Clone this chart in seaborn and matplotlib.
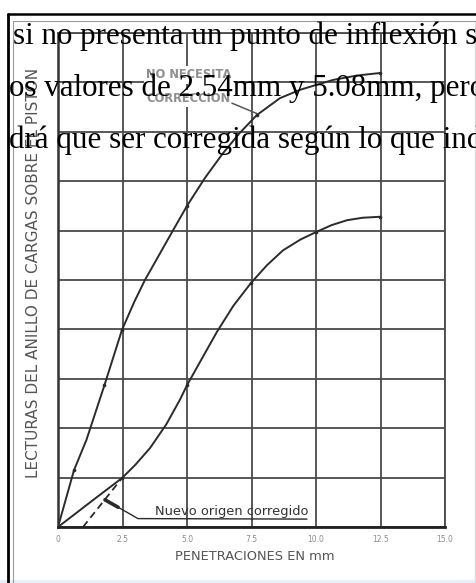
'''
Curva de penetracion (CBR) con correccion de origen, sobre un recorte de texto
'''
import numpy as np
import matplotlib
matplotlib.use('Agg')
import matplotlib.pyplot as plt
import seaborn as sns

# curva que no necesita correccion (penetracion en mm, lectura en divisiones)
pen_a = [0, 0.62, 1.1, 1.8, 2.48, 2.95, 3.37, 4.42, 5.0, 5.7, 6.4, 7.05,
         7.71, 8.6, 9.38, 10.66, 11.6, 12.48]
lec_a = [0, 1.15, 1.76, 2.87, 3.99, 4.55, 5.0, 5.97, 6.5, 7.07, 7.57, 7.98,
         8.34, 8.68, 8.85, 9.05, 9.14, 9.19]
pts_a_x = [0.62, 1.8, 2.48, 5.0, 7.71, 12.48]
pts_a_y = [1.15, 2.87, 3.99, 6.5, 8.34, 9.19]

# curva con punto de inflexion
pen_b = [0, 0.7, 1.37, 2.48, 3.0, 3.57, 4.2, 4.73, 5.0, 5.6, 6.16, 6.8,
         7.48, 8.1, 8.72, 9.4, 10.0, 10.6, 11.2, 11.8, 12.48]
lec_b = [0, 0.28, 0.55, 0.99, 1.26, 1.6, 2.08, 2.58, 2.87, 3.43, 3.95, 4.48,
         4.94, 5.3, 5.6, 5.82, 5.97, 6.11, 6.21, 6.26, 6.28]
pts_b_x = [2.48, 5.0, 7.48, 10.0, 12.48]
pts_b_y = [0.99, 2.87, 4.94, 5.97, 6.28]

# tangente que define el nuevo origen
tan_x = [0.97, 2.48]
tan_y = [0.0, 0.99]

xticks = [0, 2.5, 5.0, 7.5, 10.0, 12.5, 15.0]
xtick_labels = ['0', '2.5', '5.0', '7.5', '10.0', '12.5', '15.0']

doc_lines = ['si no presenta un punto de inflexión s',
             'os valores de 2.54mm y 5.08mm, pero',
             'drá que ser corregida según lo que ind']

W, H = 477, 583
sns.set_style('white')
fig = plt.figure(figsize=(W / 100, H / 100), dpi=100)
ax = fig.add_axes([58 / W, 56 / H, 387 / W, 494 / H])

ink = '#2b2b2b'
grid = '#4a4a4a'

sns.lineplot(x=pen_a, y=lec_a, ax=ax, color=ink, lw=1.4, sort=False,
             estimator=None)
sns.lineplot(x=pen_b, y=lec_b, ax=ax, color=ink, lw=1.4, sort=False,
             estimator=None)
sns.lineplot(x=tan_x, y=tan_y, ax=ax, color=ink, lw=1.3, ls=(0, (4, 2.5)),
             estimator=None)
sns.scatterplot(x=pts_a_x + pts_b_x, y=pts_a_y + pts_b_y, ax=ax, color=ink,
                s=7, linewidth=0, zorder=5)

ax.set_xlim(0, 15)
ax.set_ylim(0, 10)
ax.set_xticks(xticks)
ax.set_xticklabels(xtick_labels, fontsize=5.5, color='#8c8c8c')
ax.set_yticks(np.arange(0, 11, 1))
ax.set_yticklabels([])
ax.tick_params(length=0, pad=6)
ax.grid(True, color=grid, lw=1.3, zorder=0)
ax.set_axisbelow(True)
for side, sp in ax.spines.items():
    sp.set_color(grid)
    sp.set_linewidth(1.3)
ax.spines['bottom'].set_color('#222222')
ax.spines['bottom'].set_linewidth(2.0)
ax.spines['left'].set_color('#333333')
ax.spines['left'].set_linewidth(1.8)

ax.set_xlabel('PENETRACIONES EN mm', fontsize=9.4, color='#555555')
ax.xaxis.set_label_coords(0.509, -0.047)
ax.set_ylabel('LECTURAS DEL ANILLO DE CARGAS SOBRE EL PISTON',
              fontsize=11, color='#555555')
ax.yaxis.set_label_coords(-0.045, 0.514)

# rotulo de la curva superior
label_box = dict(facecolor='white', edgecolor='none', pad=1.5)
ax.text(5.08, 9.15, 'NO NECESITA', ha='center', va='center', fontsize=8.3,
        fontweight='bold', color='#8f8f8f', bbox=label_box, zorder=4)
ax.text(5.05, 8.68, 'CORRECCION', ha='center', va='center', fontsize=8.3,
        fontweight='bold', color='#8f8f8f', bbox=label_box, zorder=4)
ax.plot([6.74, 7.75], [8.58, 8.36], color='#555555', lw=1.1, zorder=4)

# rotulo del nuevo origen
ax.plot([2.33, 3.1, 9.65], [0.40, 0.17, 0.16], color=ink, lw=1.0, zorder=4)
ax.plot([1.82, 2.33], [0.55, 0.40], color=ink, lw=2.6, zorder=4)
ax.text(3.76, 0.25, 'Nuevo origen corregido', fontsize=9.4, color='#333333',
        va='baseline', ha='left', zorder=4)

# capa superior: marco y texto del documento
ov = fig.add_axes([0, 0, 1, 1], zorder=10)
ov.set_xlim(0, W)
ov.set_ylim(H, 0)
ov.axis('off')
ov.patch.set_alpha(0)
for y, x, line in zip([44, 96, 148], [13, 9, 9], doc_lines):
    ov.text(x, y, line, family='Liberation Serif', fontsize=22.3,
            color='black', va='baseline', ha='left')
ov.axhspan(580, 583, color='#e4f1f8', lw=0)
ov.plot([475, 475], [21, 583], color='#dddddd', lw=1)
ov.plot([13, W], [21, 21], color='#9a9a9a', lw=0.8)
ov.plot([13, 13], [21, 583], color='#9a9a9a', lw=0.8)
ov.plot([8.5, W], [13.5, 13.5], color='black', lw=1.8)
ov.plot([8.5, 8.5], [13.5, 583], color='black', lw=2.0)

fig.savefig('out.png', dpi=100)
